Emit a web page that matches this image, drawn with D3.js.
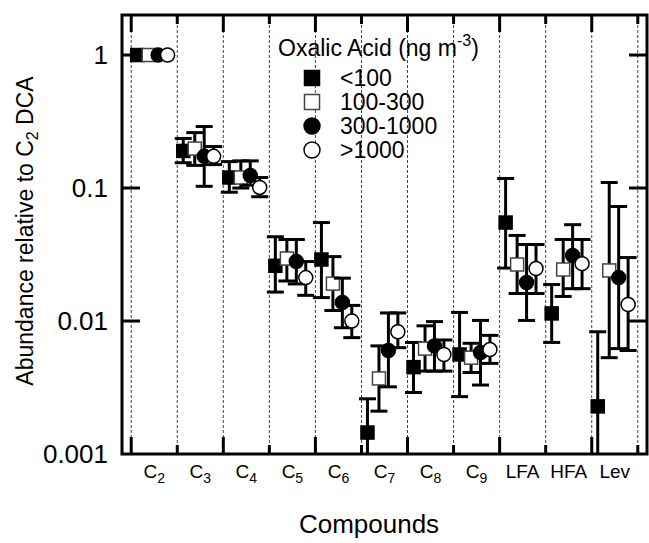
<!DOCTYPE html>
<html>
<head>
<meta charset="utf-8">
<script src="https://cdn.jsdelivr.net/npm/d3@7"></script>
<style>
  html, body { margin: 0; padding: 0; background: #fff; }
  svg { display: block; font-family: "Liberation Sans", Arial, Helvetica, sans-serif; }
</style>
</head>
<body>
<svg id="chart" width="649" height="543"></svg>
<script>
// ---------------- data ----------------
const categories = ["C2", "C3", "C4", "C5", "C6", "C7", "C8", "C9", "LFA", "HFA", "Lev"];
const yTickValues = [0.001, 0.01, 0.1, 1];
const yTickLabels = ["0.001", "0.01", "0.1", "1"];
const seriesNames = ["<100", "100-300", "300-1000", ">1000"];

const lt100    = [1, 0.19, 0.12, 0.026, 0.029, 0.00145, 0.0045, 0.0056, 0.055, 0.0114, 0.00228];
const lt100Lo  = [1, 0.155, 0.093, 0.0165, 0.015, 0.0006, 0.0029, 0.0027, 0.025, 0.0069, 0.0005];
const lt100Hi  = [1, 0.236, 0.158, 0.043, 0.055, 0.0026, 0.0069, 0.0116, 0.118, 0.0188, 0.0083];

const s100_300   = [1, 0.198, 0.12, 0.0295, 0.0191, 0.0037, 0.0062, 0.0053, 0.0266, 0.0244, 0.024];
const s100_300Lo = [1, 0.148, 0.10, 0.02, 0.012, 0.0021, 0.0042, 0.0041, 0.0161, 0.0153, 0.0053];
const s100_300Hi = [1, 0.261, 0.16, 0.041, 0.0305, 0.0065, 0.0092, 0.0068, 0.044, 0.041, 0.11];

const s300_1000   = [1, 0.173, 0.124, 0.028, 0.0138, 0.006, 0.0065, 0.0058, 0.0195, 0.0311, 0.0212];
const s300_1000Lo = [1, 0.103, 0.105, 0.019, 0.0089, 0.0032, 0.0042, 0.0033, 0.0101, 0.0175, 0.0062];
const s300_1000Hi = [1, 0.29, 0.16, 0.041, 0.021, 0.0115, 0.0099, 0.0101, 0.0376, 0.053, 0.0726];

const gt1000   = [1, 0.173, 0.101, 0.0212, 0.0100, 0.0083, 0.0056, 0.0061, 0.0248, 0.027, 0.0133];
const gt1000Lo = [1, 0.15, 0.086, 0.0156, 0.0075, 0.0063, 0.0042, 0.0048, 0.0161, 0.0175, 0.006];
const gt1000Hi = [1, 0.205, 0.12, 0.028, 0.0131, 0.0115, 0.0072, 0.0078, 0.0376, 0.041, 0.030];

// ---------------- layout ----------------
const svg = d3.select("#chart");
const L = 122, R = 647, T = 15, B = 454;
const x = d3.scaleLinear().domain([-0.2, 11.2]).range([L, R]);
const y = d3.scaleLog().domain([0.001, 2]).range([B, T]);
const offsets = [0.13, 0.38, 0.585, 0.79];

const series = [
  { name: seriesNames[0], v: lt100,     lo: lt100Lo,     hi: lt100Hi,     shape: "square", fill: "#000", stroke: "#000" },
  { name: seriesNames[1], v: s100_300,  lo: s100_300Lo,  hi: s100_300Hi,  shape: "square", fill: "#fff", stroke: "#444" },
  { name: seriesNames[2], v: s300_1000, lo: s300_1000Lo, hi: s300_1000Hi, shape: "circle", fill: "#000", stroke: "#000" },
  { name: seriesNames[3], v: gt1000,    lo: gt1000Lo,    hi: gt1000Hi,    shape: "circle", fill: "#fff", stroke: "#000" }
];

svg.append("defs").append("clipPath").attr("id", "plotclip")
  .append("rect").attr("x", L).attr("y", T).attr("width", R - L).attr("height", B - T);

// dashed category boundaries
const bounds = d3.range(0, categories.length + 1);
svg.append("g").selectAll("line").data(bounds).join("line")
  .attr("x1", d => x(d)).attr("x2", d => x(d))
  .attr("y1", T).attr("y2", B)
  .attr("stroke", "#444").attr("stroke-width", 1).attr("stroke-dasharray", "3,2");

// ticks on top/bottom at boundaries
const tk = svg.append("g");
bounds.forEach(d => {
  const len = d % 2 === 0 ? 17 : 9;
  tk.append("line").attr("x1", x(d)).attr("x2", x(d)).attr("y1", B).attr("y2", B - len)
    .attr("stroke", "#000").attr("stroke-width", 3);
  tk.append("line").attr("x1", x(d)).attr("x2", x(d)).attr("y1", T).attr("y2", T + len)
    .attr("stroke", "#000").attr("stroke-width", 3);
});

// y ticks inward left and right
[1, 0.1, 0.01].forEach(v => {
  tk.append("line").attr("x1", L).attr("x2", L + 18).attr("y1", y(v)).attr("y2", y(v))
    .attr("stroke", "#000").attr("stroke-width", 3);
  tk.append("line").attr("x1", R - 18).attr("x2", R).attr("y1", y(v)).attr("y2", y(v))
    .attr("stroke", "#000").attr("stroke-width", 3);
});

// y tick labels
svg.append("g").selectAll("text").data(yTickValues).join("text")
  .attr("x", 108).attr("y", d => y(d)).attr("dy", "0.36em")
  .attr("text-anchor", "end").attr("font-size", 26).attr("fill", "#000")
  .text((d, i) => yTickLabels[i]);

// x category labels
const xl = svg.append("g");
categories.forEach((c, i) => {
  const t = xl.append("text").attr("x", x(i + 0.5)).attr("y", 478)
    .attr("text-anchor", "middle").attr("font-size", 19).attr("fill", "#000");
  if (/^C\d$/.test(c)) {
    t.append("tspan").text("C");
    t.append("tspan").attr("font-size", 14).attr("dy", 5).text(c.slice(1));
  } else {
    t.text(c);
  }
});

// data: error bars + markers
const plot = svg.append("g").attr("clip-path", "url(#plotclip)");
const capW = 17, msize = 13;
series.forEach((s, si) => {
  const g = plot.append("g");
  categories.forEach((c, i) => {
    const cx = x(i + offsets[si]);
    if (s.lo[i] !== s.hi[i]) {
      g.append("line").attr("x1", cx).attr("x2", cx).attr("y1", y(s.lo[i])).attr("y2", y(s.hi[i]))
        .attr("stroke", "#000").attr("stroke-width", 3);
      [s.lo[i], s.hi[i]].forEach(e => {
        g.append("line").attr("x1", cx - capW / 2).attr("x2", cx + capW / 2)
          .attr("y1", y(e)).attr("y2", y(e)).attr("stroke", "#000").attr("stroke-width", 3);
      });
    }
  });
  categories.forEach((c, i) => {
    const cx = x(i + offsets[si]), cy = y(s.v[i]);
    if (s.shape === "square") {
      g.append("rect").attr("x", cx - msize / 2).attr("y", cy - msize / 2)
        .attr("width", msize).attr("height", msize)
        .attr("fill", s.fill).attr("stroke", s.stroke).attr("stroke-width", 1.5);
    } else {
      g.append("circle").attr("cx", cx).attr("cy", cy).attr("r", msize / 2 + 0.5)
        .attr("fill", s.fill).attr("stroke", s.stroke).attr("stroke-width", 1.5);
    }
  });
});

// frame
svg.append("rect").attr("x", L).attr("y", T).attr("width", R - L).attr("height", B - T)
  .attr("fill", "none").attr("stroke", "#000").attr("stroke-width", 3);

// legend
const lg = svg.append("g");
const title = lg.append("text").attr("x", 278).attr("y", 56).attr("font-size", 23).attr("fill", "#000");
title.append("tspan").text("Oxalic Acid (ng m");
title.append("tspan").attr("font-size", 16).attr("dy", -10).text("-3");
title.append("tspan").attr("dy", 10).text(")");
const rowY = [78, 102, 126, 150];
series.forEach((s, si) => {
  const cy = rowY[si], cx = 312, ms = 15;
  if (s.shape === "square") {
    lg.append("rect").attr("x", cx - ms / 2).attr("y", cy - ms / 2).attr("width", ms).attr("height", ms)
      .attr("fill", s.fill).attr("stroke", s.stroke).attr("stroke-width", 1.5);
  } else {
    lg.append("circle").attr("cx", cx).attr("cy", cy).attr("r", ms / 2 + 0.5)
      .attr("fill", s.fill).attr("stroke", s.stroke).attr("stroke-width", 1.5);
  }
  lg.append("text").attr("x", 340).attr("y", cy).attr("dy", "0.36em")
    .attr("font-size", 23).attr("fill", "#000").text(s.name);
});

// axis titles
const yt = svg.append("text").attr("transform", "translate(33,231) rotate(-90)")
  .attr("text-anchor", "middle").attr("font-size", 23).attr("fill", "#000");
yt.append("tspan").text("Abundance relative to C");
yt.append("tspan").attr("font-size", 16).attr("dy", 5).text("2");
yt.append("tspan").attr("dy", -5).text(" DCA");

svg.append("text").attr("x", 369).attr("y", 533).attr("text-anchor", "middle")
  .attr("font-size", 26).attr("fill", "#000").text("Compounds");
</script>
</body>
</html>
